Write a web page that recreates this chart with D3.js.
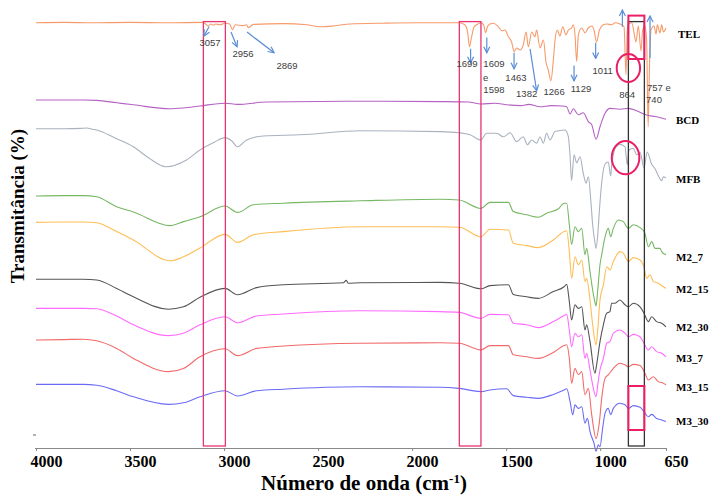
<!DOCTYPE html>
<html>
<head>
<meta charset="utf-8">
<script src="https://cdn.jsdelivr.net/npm/d3@7"></script>
<style>
    body { margin: 0; background: #fff; }
    svg { display: block; }
</style>
</head>
<body>
<svg width="710" height="499"></svg>
<script>
// [número de onda, transmitância] (espectros deslocados)
var tel = [[4000,106.3],[3850,106.4],[3700,106.3],[3500,106.4],[3300,106.3],[3110,106.4],[3084,105.5],[3070,106],[3057,105.7],[3045,106],[3022,105.8],[2995,106.2],[2970,106],[2956,104.6],[2940,105.8],[2900,105.6],[2880,105.8],[2871,105.1],[2844,105.9],[2685,106.1],[2560,105.8],[2490,105.3],[2419,105.5],[2330,106],[2150,106.2],[1976,106.3],[1790,106.3],[1749,106.3],[1720,105.8],[1705,104],[1695,100.3],[1685,102.5],[1670,105.3],[1657,105.8],[1634,106.3],[1620,105.8],[1609,103.8],[1600,105.3],[1586,106],[1568,106.2],[1541,105.3],[1524,104.3],[1506,104.5],[1488,102.8],[1471,101.5],[1458,99.1],[1444,100],[1426,99.5],[1409,100.8],[1394,104],[1382,100.3],[1364,104],[1347,102.8],[1338,104.5],[1320,100],[1302,102],[1288,96.5],[1276,94.5],[1262,91.8],[1249,97],[1240,102],[1228,104.5],[1214,103],[1199,105.3],[1182,103.3],[1169,104.5],[1152,105],[1143,105.8],[1134,103.3],[1125,96.6],[1116,103.3],[1098,105],[1081,103.8],[1063,105],[1045,105.5],[1033,104.5],[1019,101.5],[1004,104.5],[983,105.8],[965,106],[939,105.8],[921,106.3],[895,106],[873,105.3],[863,93.3],[856,104.5],[847,106],[832,106.3],[818,103.3],[810,101.5],[797,105.5],[783,99.3],[774,104.5],[762,105.5],[753,102],[745,80.3],[737,97],[730,104.5],[714,105.5],[703,103.5],[696,105.8],[682,103.8],[673,105.8],[664,104],[650,105]];

var bcd = [[4000,87],[3850,87],[3748,87],[3677,86.9],[3571,86.3],[3482,85.8],[3287,84.8],[3216,85],[3128,85.5],[2995,86.2],[2928,85.9],[2773,86.5],[2277,86.7],[1852,86.6],[1700,86.5],[1634,86],[1560,86.2],[1497,85.8],[1420,85.6],[1380,85.9],[1320,85.3],[1260,85.6],[1200,85.5],[1178,85.3],[1160,83.5],[1143,84.8],[1116,83.3],[1090,83.8],[1063,81.6],[1045,80.8],[1022,77.2],[1001,80.3],[974,83.7],[948,84.9],[895,84.7],[850,84.9],[806,84.3],[758,83.3],[700,82.8],[650,82.2]];

var mfb = [[4000,79.8],[3850,79.8],[3760,79.9],[3731,80],[3700,79.7],[3677,79.5],[3580,77.5],[3482,75.3],[3400,72.5],[3309,70.3],[3200,72],[3128,74.5],[3050,76.5],[2995,77.6],[2960,76.8],[2928,75.3],[2880,77],[2791,78],[2596,78.3],[2277,79.3],[1852,79.1],[1749,78.8],[1692,78.3],[1634,77],[1604,78.7],[1550,78.7],[1515,77.8],[1479,78.8],[1444,76.6],[1409,77.8],[1387,75.8],[1364,77],[1338,76.2],[1320,77.8],[1302,76.2],[1285,78.7],[1267,77],[1240,79.1],[1187,79.5],[1169,77.8],[1160,72.8],[1152,66.8],[1139,73.3],[1125,71.3],[1107,72.8],[1090,68.7],[1075,66.2],[1063,67.8],[1050,62],[1040,55.8],[1030,52],[1022,49.9],[1013,53.3],[1004,59.5],[992,66.3],[974,71],[957,71.5],[944,68],[939,70.8],[930,73.3],[921,74.9],[895,75.9],[868,75.3],[856,70.8],[847,74.5],[824,74.9],[806,73.3],[788,73.9],[767,70],[750,74],[727,71],[708,69.8],[690,68],[673,66.8],[664,67.8],[650,67.5]];

var m2_7 = [[4000,63],[3850,63.1],[3748,63.1],[3677,62.8],[3571,60.3],[3482,59],[3287,55.6],[3216,56.6],[3128,57.8],[2995,60.5],[2928,58.9],[2844,60.8],[2685,61.2],[2277,61.8],[1852,62.2],[1749,62],[1634,59.9],[1586,61.4],[1488,61.4],[1462,59.1],[1391,58.3],[1329,57.7],[1285,58.7],[1222,59.8],[1192,61.2],[1178,61.2],[1164,55.8],[1152,50.9],[1134,55.3],[1116,54.1],[1098,54.9],[1081,48.3],[1072,49.9],[1054,44.1],[1040,39.5],[1028,36.5],[1022,35.5],[1013,39.5],[1001,45.8],[992,48.3],[974,52.8],[957,54.9],[944,52.8],[930,54.9],[903,57],[877,56.6],[850,54.9],[824,55.8],[788,55.1],[762,53.7],[744,50.3],[726,51.6],[708,49.9],[682,49.9],[673,49.1],[650,48.3]];

var m2_15 = [[4000,56.4],[3850,56.5],[3748,56.5],[3677,56.3],[3571,54.1],[3482,52],[3287,46.8],[3216,47.8],[3128,50],[2995,53.4],[2928,51.4],[2844,53.3],[2685,54.1],[2277,55.3],[1852,55.3],[1749,55.2],[1634,52.8],[1586,54.7],[1488,54.5],[1462,51.2],[1391,50.6],[1329,50.1],[1249,52],[1192,54.1],[1178,54.3],[1164,49.1],[1152,42.4],[1134,47.8],[1116,45.8],[1098,47],[1081,41.6],[1072,42.4],[1054,37],[1040,30.8],[1022,25.8],[1013,29.5],[1001,37],[983,40.8],[965,45.3],[948,44.5],[930,46.6],[895,49.1],[877,48.7],[850,46.6],[824,47.6],[788,47],[767,45.3],[753,42.4],[735,43.3],[717,41.6],[691,41.2],[664,40.3],[650,39.9]];

var m2_30 = [[4000,42.2],[3850,42.2],[3748,42.2],[3677,42],[3571,39.9],[3482,37.8],[3296,34.7],[3216,35.3],[3128,37.7],[2995,39.9],[2928,38.3],[2827,40.1],[2685,40.8],[2366,41.3],[2350,41.9],[2340,41.2],[2277,41.3],[1852,41.4],[1749,41.2],[1634,39.8],[1586,40.6],[1488,40.8],[1462,38.4],[1391,37.8],[1329,37.4],[1249,39.1],[1192,40.3],[1178,40.9],[1164,36.6],[1152,32],[1134,35.8],[1116,34.9],[1098,35.3],[1081,29.5],[1072,30.8],[1054,26.6],[1028,18.7],[1019,20.8],[1001,26.6],[983,30.8],[965,33.7],[948,34.1],[939,36.2],[921,36.2],[895,37],[868,35.8],[850,35.3],[824,36.2],[788,35.3],[767,33.7],[744,31.6],[726,32.8],[700,31.6],[673,31.2],[650,30.3]];

var m3_7 = [[4000,34.9],[3850,34.9],[3748,34.9],[3677,34.8],[3571,33],[3482,30.8],[3296,28.1],[3216,28.7],[3128,30.8],[2995,32.8],[2928,31.3],[2827,33],[2685,33.5],[2277,34.3],[1852,34.1],[1749,33.9],[1634,32.4],[1586,33.4],[1488,33.3],[1462,31.2],[1391,30.8],[1329,30.1],[1249,31.6],[1192,33.1],[1178,33.4],[1164,29.5],[1152,25.3],[1134,28.7],[1116,27.8],[1098,28.3],[1081,22.4],[1072,23.7],[1054,19.5],[1040,15.8],[1022,12.8],[1013,15.8],[1001,19.5],[983,22.4],[965,26.2],[948,26.6],[930,28.7],[895,29.5],[868,28.7],[850,27.8],[824,28.4],[788,27.8],[767,26.2],[744,24.5],[726,25.3],[700,24.1],[673,23.7],[650,22.8]];

var m3_15 = [[4000,27],[3850,27.1],[3748,27.2],[3677,26.8],[3571,24.9],[3482,22.4],[3296,19.1],[3216,19.9],[3128,22.8],[2995,24.8],[2928,23.1],[2827,24.9],[2685,25.5],[2277,26.2],[1852,26.3],[1749,26.2],[1634,24.5],[1586,25.6],[1488,25.6],[1462,23.3],[1391,22.8],[1329,22.4],[1249,23.9],[1192,25.6],[1178,25.8],[1164,22.4],[1152,16.2],[1134,19.9],[1116,18.3],[1098,19.1],[1081,13.3],[1063,14.9],[1045,8.3],[1022,2.4],[1004,6.6],[992,12.4],[974,17.4],[957,18.3],[930,19.9],[895,21.2],[868,20.8],[850,20.3],[824,20.9],[788,20.6],[762,18.7],[744,17],[717,17.8],[691,16.6],[664,16.2],[650,15.8]];

var m3_30 = [[4000,15.9],[3850,15.9],[3748,15.9],[3677,15.7],[3571,14.3],[3482,12.8],[3296,10.9],[3216,11.3],[3128,12.8],[2995,14.3],[2928,13],[2827,14.3],[2685,14.7],[2277,15.3],[1852,15.2],[1749,14.9],[1634,14.1],[1586,14.5],[1497,14.8],[1462,13.1],[1391,12.7],[1329,12.4],[1249,13.4],[1192,14.5],[1178,14.8],[1160,11.6],[1146,8.3],[1134,10.8],[1116,9.9],[1098,10.3],[1081,6.2],[1068,7.4],[1054,4.1],[1033,1.2],[1022,-0.8],[1010,0.8],[1001,0.3],[987,4.9],[974,8.7],[957,9.9],[944,8.3],[930,9.9],[895,11.2],[868,10.8],[850,9.9],[824,10.6],[788,10.2],[767,9.1],[744,7.8],[726,8.4],[700,7.4],[673,7],[650,6.6]];

var seriesNames = ["TEL", "BCD", "MFB", "M2_7", "M2_15", "M2_30", "M3_7", "M3_15", "M3_30"];
var seriesData = [tel, bcd, mfb, m2_7, m2_15, m2_30, m3_7, m3_15, m3_30];
var labelLevels = [103.5, 82, 67.25, 47.75, 39.75, 30.25, 22.5, 15.25, 6.75]; // altura do rótulo à direita
var xTickValues = [4000, 3500, 3000, 2500, 2000, 1500, 1000, 650];

// bandas marcadas: [número de onda início, fim]
var bandBoxes = [[3110, 2993], [1749, 1634]];
var peakArrows = [[3080,105.3,3107,103],[2963,104,2931,100.3],[2878,104,2734,98.8],[1689,99.8,1689,96.3],[1603,102.6,1603,98.8],[1458,98.8,1458,94.8],[1373,99.8,1338,89.3],[1139,95.6,1139,91.8],[1024,101.3,1024,97.4],[882,105.3,882,109.5],[735,97.5,735,108]];
var peakLabels = [["3057",3075,101.5,"middle"],["2956",2899,98.75,"middle"],["2869",2665,95.75,"middle"],["1699",1708,96.25,"middle"],["1609",1565,96.25,"middle"],["e",1623,92.75,"start"],["1598",1565,89.75,"middle"],["1463",1448,92.75,"middle"],["1382",1391,88.75,"middle"],["1266",1245,89.25,"middle"],["1129",1102,90,"middle"],["1011",987,94.5,"middle"],["864",857,88.5,"middle"],["757",751,90.25,"start"],["e",652,90.25,"start"],["740",756,87.25,"start"]];

var colors = ["#f79a6a", "#b562c4", "#a9b2bf", "#77b865", "#ffbe55", "#555555", "#ff6bff", "#f26a6a", "#6b6bf5"];

var svg = d3.select("svg");

var x = d3.scaleLinear().domain([4000, 650]).range([36, 666]);
var y = d3.scaleLinear().domain([0, 110]).range([448, 8]);

var line = d3.line()
    .x(d => x(d[0]))
    .y(d => y(d[1]))
    .curve(d3.curveMonotoneX);

// espectros
svg.selectAll("path.spec")
    .data(seriesData)
    .enter()
    .append("path")
    .attr("class", "spec")
    .attr("d", line)
    .style("fill", "none")
    .style("stroke", (d, i) => colors[i])
    .style("stroke-width", 1.1);

// eixo x
var xAxis = d3.axisBottom(x).tickValues(xTickValues).tickSize(3).tickFormat(d3.format("d"));
var gx = svg.append("g").attr("transform", "translate(0,448)").call(xAxis);
gx.select(".domain").attr("stroke", "#888").attr("d", "M35,0.5H666");
gx.selectAll(".tick line").attr("stroke", "#888");
gx.selectAll(".tick text")
    .attr("dx", 10)
    .attr("y", 8)
    .style("font-family", "'Liberation Serif', 'Times New Roman', serif")
    .style("font-weight", "bold")
    .style("font-size", "16px")
    .style("fill", "#000");

// pequeno traço do eixo y
svg.append("line")
    .attr("x1", 33).attr("x2", 36)
    .attr("y1", y(3.25)).attr("y2", y(3.25))
    .attr("stroke", "#666");

// títulos
svg.append("text")
    .attr("x", 364).attr("y", 490)
    .attr("text-anchor", "middle")
    .style("font-family", "'Liberation Serif', 'Times New Roman', serif")
    .style("font-weight", "bold")
    .style("font-size", "21px")
    .text("Número de onda (cm")
    .append("tspan").attr("baseline-shift", "super").style("font-size", "13px").text("-1")
    .select(function () { return this.parentNode; })
    .append("tspan").text(")");

svg.append("text")
    .attr("transform", "translate(24,206) rotate(-90)")
    .attr("text-anchor", "middle")
    .style("font-family", "'Liberation Serif', 'Times New Roman', serif")
    .style("font-weight", "bold")
    .style("font-size", "19px")
    .text("Transmitância (%)");

// rótulos dos espectros
svg.selectAll("text.name")
    .data(seriesNames)
    .enter()
    .append("text")
    .attr("class", "name")
    .attr("x", (d, i) => i == 0 ? 678 : 676)
    .attr("y", (d, i) => y(labelLevels[i]))
    .attr("dominant-baseline", "central")
    .style("font-family", "'Liberation Serif', 'Times New Roman', serif")
    .style("font-weight", "bold")
    .style("font-size", "11px")
    .text(d => d);

// caixas
var boxTop = 106.6, boxBottom = 0.5;
svg.selectAll("rect.band")
    .data(bandBoxes)
    .enter()
    .append("rect")
    .attr("class", "band")
    .attr("x", d => x(d[0]))
    .attr("width", d => x(d[1]) - x(d[0]))
    .attr("y", y(boxTop))
    .attr("height", y(boxBottom) - y(boxTop))
    .style("fill", "none")
    .style("stroke", "#e8336f")
    .style("stroke-width", 1.3);

svg.append("rect")
    .attr("x", x(850)).attr("width", x(765) - x(850))
    .attr("y", y(boxTop)).attr("height", y(boxBottom) - y(boxTop))
    .style("fill", "none").style("stroke", "#333").style("stroke-width", 1.3);

[[108.1, 97.25], [15.5, 4.5]].forEach(function (b) {
    svg.append("rect")
        .attr("x", x(850)).attr("width", x(765) - x(850))
        .attr("y", y(b[0])).attr("height", y(b[1]) - y(b[0]))
        .style("fill", "none").style("stroke", "#ea1f66").style("stroke-width", 2);
});

// elipses
[[850, 95, 11.7, 14], [865, 72.6, 13.8, 16.7]].forEach(function (e) {
    svg.append("ellipse")
        .attr("cx", x(e[0])).attr("cy", y(e[1]))
        .attr("rx", e[2]).attr("ry", e[3])
        .style("fill", "none").style("stroke", "#ea1f66").style("stroke-width", 2);
});

// setas
svg.append("defs").append("marker")
    .attr("id", "head")
    .attr("viewBox", "0 0 8 8")
    .attr("refX", 7).attr("refY", 4)
    .attr("markerWidth", 8).attr("markerHeight", 8)
    .attr("markerUnits", "userSpaceOnUse")
    .attr("orient", "auto")
    .append("path")
    .attr("d", "M1,1 L7,4 L1,7")
    .style("fill", "none")
    .style("stroke", "#5b8ed6")
    .style("stroke-width", 1.2);

svg.selectAll("line.arrow")
    .data(peakArrows)
    .enter()
    .append("line")
    .attr("class", "arrow")
    .attr("x1", d => x(d[0])).attr("y1", d => y(d[1]))
    .attr("x2", d => x(d[2])).attr("y2", d => y(d[3]))
    .attr("marker-end", "url(#head)")
    .style("stroke", "#5b8ed6")
    .style("stroke-width", 1.2);

svg.selectAll("text.peak")
    .data(peakLabels)
    .enter()
    .append("text")
    .attr("class", "peak")
    .attr("x", d => x(d[1]))
    .attr("y", d => y(d[2]))
    .attr("text-anchor", d => d[3])
    .attr("dominant-baseline", "central")
    .style("font-family", "'Liberation Sans', Arial, sans-serif")
    .style("font-size", "9.5px")
    .style("fill", "#404040")
    .text(d => d[0]);
</script>
</body>
</html>
